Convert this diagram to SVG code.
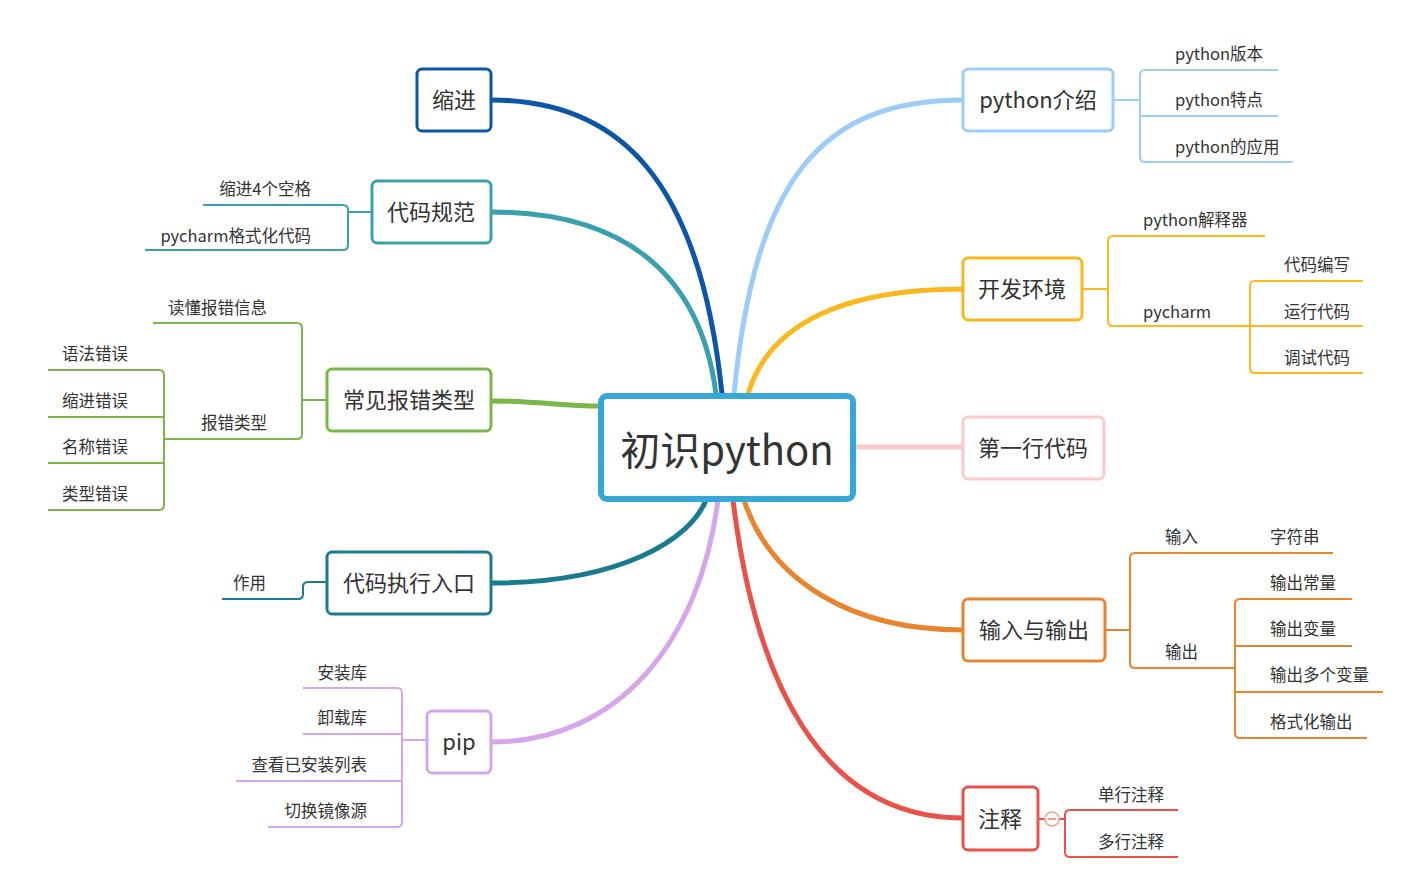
<svg xmlns="http://www.w3.org/2000/svg" width="1424" height="875" viewBox="0 0 1424 875">
<style>
text{font-family:"Noto Sans CJK SC","Noto Sans",sans-serif;fill:#333}
.n{font-size:22px;text-anchor:middle}
.s{font-size:16.5px}
.e{text-anchor:end}
.main{fill:none;stroke-width:5;stroke-linecap:round}
.sub{fill:none;stroke-width:2}
.box{fill:#fff;stroke-width:3}
</style>
<rect width="1424" height="875" fill="#fff"/>
<g id="connectors">
<path class="main" stroke="#0d56a6" d="M491 100 C620 100 700 180 722 394"/>
<path class="main" stroke="#3aa0ad" d="M491 212 C620 212 700 270 716 394"/>
<path class="main" stroke="#7ab648" d="M491 401 C540 401 560 406 600 406"/>
<path class="main" stroke="#1a7b8e" d="M491 583 C620 583 690 540 706 500"/>
<path class="main" stroke="#d6a6ea" d="M491 742 C620 742 700 640 718 500"/>
<path class="main" stroke="#9dcdf7" d="M963 100 C820 100 755 180 734 394"/>
<path class="main" stroke="#f8b81e" d="M963 289 C850 289 770 320 748 394"/>
<path class="main" stroke="#fac9cc" d="M854 447 L963 447"/>
<path class="main" stroke="#e8832e" d="M963 630 C850 630 770 580 744 500"/>
<path class="main" stroke="#e8524a" d="M963 818 C820 818 755 680 733 500"/>
<g stroke="#9dcdf7" class="sub">
<path class="sub" d="M1113 100 H1140"/>
<path class="sub" d="M1278 70 H1145 Q1140 70 1140 75 V157 Q1140 162 1145 162 H1293"/>
<path class="sub" d="M1140 116 H1278"/>
</g>
<g stroke="#f8b81e" class="sub">
<path class="sub" d="M1082 289 H1108"/>
<path class="sub" d="M1265 236 H1113 Q1108 236 1108 241 V321 Q1108 326 1113 326 H1250"/>
<path class="sub" d="M1363 281 H1255 Q1250 281 1250 286 V368 Q1250 373 1255 373 H1363"/>
<path class="sub" d="M1250 326 H1363"/>
</g>
<g stroke="#e8832e" class="sub">
<path class="sub" d="M1105 630 H1130"/>
<path class="sub" d="M1333 553 H1135 Q1130 553 1130 558 V663 Q1130 668 1135 668 H1235"/>
<path class="sub" d="M1352 599 H1240 Q1235 599 1235 604 V733 Q1235 738 1240 738 H1367"/>
<path class="sub" d="M1235 646 H1352"/>
<path class="sub" d="M1235 692 H1383"/>
</g>
<g stroke="#e8524a" class="sub">
<path class="sub" d="M1038 819 H1045"/>
<path class="sub" d="M1059 819 H1065"/>
<path class="sub" d="M1178 810 H1070 Q1065 810 1065 815 V852 Q1065 857 1070 857 H1178"/>
</g>
<g stroke="#3aa0ad" class="sub">
<path class="sub" d="M372 212 H348"/>
<path class="sub" d="M203 205 H343 Q348 205 348 210 V245 Q348 250 343 250 H145"/>
</g>
<g stroke="#7ab648" class="sub">
<path class="sub" d="M327 400 H302"/>
<path class="sub" d="M153 323 H297 Q302 323 302 328 V434 Q302 439 297 439 H164"/>
<path class="sub" d="M48 370 H159 Q164 370 164 375 V505 Q164 510 159 510 H48"/>
<path class="sub" d="M48 417 H164"/>
<path class="sub" d="M48 463 H164"/>
</g>
<g stroke="#1a7b8e" class="sub">
<path class="sub" d="M327 582 H308 Q303 582 303 587 V594 Q303 599 298 599 H222"/>
</g>
<g stroke="#d6a6ea" class="sub">
<path class="sub" d="M427 740 H402"/>
<path class="sub" d="M303 688 H397 Q402 688 402 693 V822 Q402 827 397 827 H268"/>
<path class="sub" d="M303 734 H402"/>
<path class="sub" d="M236 781 H402"/>
</g>
</g>
<g id="center">
<rect x="601" y="396" width="252" height="103" rx="6" fill="#fff" stroke="#35a8d6" stroke-width="6"/>
<text x="727" y="465" style="font-size:40px;text-anchor:middle">初识python</text>
</g>
<g id="n-suojin"><rect class="box" x="417" y="69" width="74" height="62" rx="5" stroke="#0d56a6"/><text class="n" x="454" y="108">缩进</text></g>
<g id="n-daimaguifan"><rect class="box" x="372" y="181" width="119" height="62" rx="5" stroke="#3aa0ad"/><text class="n" x="431" y="220">代码规范</text></g>
<g id="n-baocuo"><rect class="box" x="327" y="369" width="164" height="62" rx="5" stroke="#7ab648"/><text class="n" x="409" y="408">常见报错类型</text></g>
<g id="n-rukou"><rect class="box" x="327" y="552" width="164" height="62" rx="5" stroke="#1a7b8e"/><text class="n" x="409" y="591">代码执行入口</text></g>
<g id="n-pip"><rect class="box" x="427" y="711" width="64" height="62" rx="5" stroke="#d6a6ea"/><text class="n" x="459" y="750">pip</text></g>
<g id="n-intro"><rect class="box" x="963" y="69" width="150" height="62" rx="5" stroke="#9dcdf7"/><text class="n" x="1038" y="108">python介绍</text></g>
<g id="n-env"><rect class="box" x="963" y="258" width="119" height="62" rx="5" stroke="#f8b81e"/><text class="n" x="1022" y="297">开发环境</text></g>
<g id="n-first"><rect class="box" x="963" y="417" width="141" height="62" rx="5" stroke="#fac9cc"/><text class="n" x="1033" y="456">第一行代码</text></g>
<g id="n-io"><rect class="box" x="963" y="599" width="142" height="62" rx="5" stroke="#e8832e"/><text class="n" x="1034" y="638">输入与输出</text></g>
<g id="n-comment"><rect class="box" x="963" y="787" width="75" height="63" rx="5" stroke="#e8524a"/><text class="n" x="1000" y="827">注释</text>
<circle cx="1052" cy="819" r="7" fill="#fff" stroke="#f0a09a" stroke-width="1.5"/><path d="M1048 819 H1056" stroke="#e8524a" stroke-width="1.2"/></g>
<g id="subtopics">
<text class="s" x="1175" y="60">python版本</text>
<text class="s" x="1175" y="106">python特点</text>
<text class="s" x="1175" y="153">python的应用</text>
<text class="s" x="1143" y="226">python解释器</text>
<text class="s" x="1143" y="318">pycharm</text>
<text class="s" x="1284" y="271">代码编写</text>
<text class="s" x="1284" y="318">运行代码</text>
<text class="s" x="1284" y="364">调试代码</text>
<text class="s" x="1165" y="543">输入</text>
<text class="s" x="1270" y="543">字符串</text>
<text class="s" x="1165" y="658">输出</text>
<text class="s" x="1270" y="589">输出常量</text>
<text class="s" x="1270" y="635">输出变量</text>
<text class="s" x="1270" y="681">输出多个变量</text>
<text class="s" x="1270" y="728">格式化输出</text>
<text class="s" x="1098" y="801">单行注释</text>
<text class="s" x="1098" y="848">多行注释</text>
<text class="s e" x="311" y="195">缩进4个空格</text>
<text class="s e" x="311" y="242">pycharm格式化代码</text>
<text class="s e" x="267" y="314">读懂报错信息</text>
<text class="s e" x="267" y="429">报错类型</text>
<text class="s e" x="128" y="360">语法错误</text>
<text class="s e" x="128" y="407">缩进错误</text>
<text class="s e" x="128" y="453">名称错误</text>
<text class="s e" x="128" y="500">类型错误</text>
<text class="s e" x="266" y="589">作用</text>
<text class="s e" x="367" y="679">安装库</text>
<text class="s e" x="367" y="724">卸载库</text>
<text class="s e" x="367" y="771">查看已安装列表</text>
<text class="s e" x="367" y="817">切换镜像源</text>
</g>
</svg>
